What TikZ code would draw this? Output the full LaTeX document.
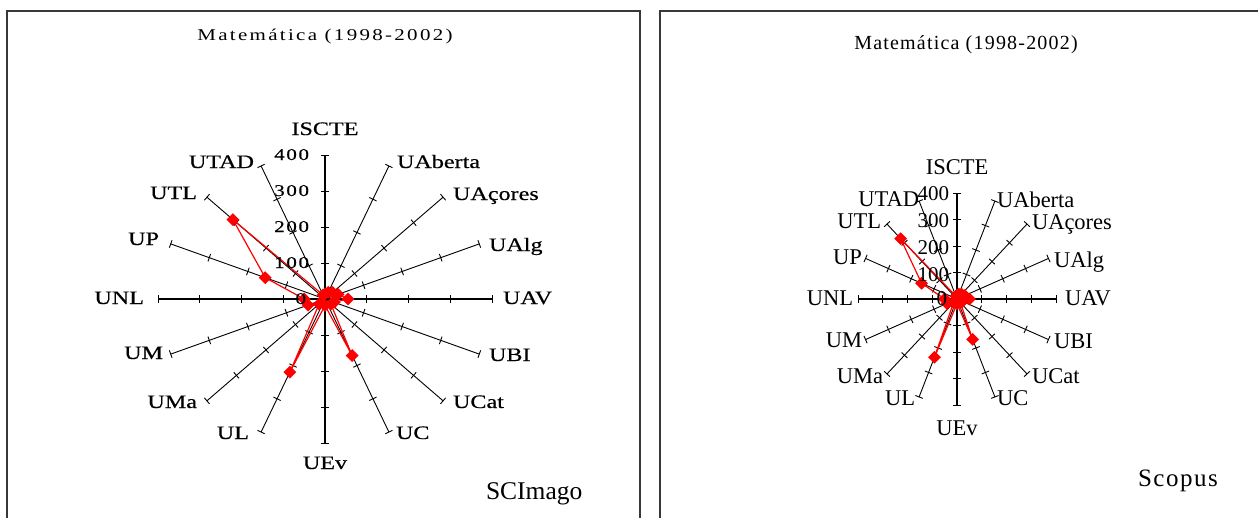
\documentclass[tikz,border=0pt]{standalone}
\usepackage{fontspec}
\setmainfont{Liberation Serif}
% wide serif faces for the chart panels
\newfontfamily\titleL[FakeStretch=1.27,LetterSpace=14]{Liberation Serif}
\newfontfamily\labL[FakeStretch=1.27,FakeBold=0.5]{Liberation Serif}
\newfontfamily\numL[FakeStretch=1.27,LetterSpace=10,FakeBold=0.5]{Liberation Serif}
\newfontfamily\titleR[LetterSpace=6]{Liberation Serif}
\newfontfamily\srcR[LetterSpace=6]{Liberation Serif}
\usetikzlibrary{calc,shapes.geometric}

\tikzset{
  panel/.style={draw=black!78, line width=2},
  spoke/.style={line width=0.9},
  mainaxis/.style={line width=1.6},
  tickmark/.style={line width=0.9},
  series/.style={draw=red, line width=1.2, line join=round},
  marker/.style={diamond, fill=red, draw=none, inner sep=0, minimum width=13, minimum height=13, aspect=1},
  txt/.style={inner sep=0, outer sep=0},
  ttlL/.style={txt, anchor=base, font=\titleL\fontsize{16.5}{18}\selectfont},
  ttlR/.style={txt, anchor=base, font=\titleR\fontsize{20}{22}\selectfont},
  axL/.style={txt, font=\labL\fontsize{19}{21}\selectfont},
  axR/.style={txt, font=\fontsize{22.5}{24}\selectfont},
  valL/.style={txt, anchor=base east, font=\numL\fontsize{16.5}{18}\selectfont},
  valR/.style={txt, anchor=base east, font=\fontsize{21}{23}\selectfont},
}

% #1 prefix, #2 cx, #3 cy, #4 rx, #5 ry (for 400), #6 the 16 values
\newcommand\radarchart[6]{%
  \coordinate (#1-c) at (#2,#3);
  \foreach \k in {0,...,15}{%
    \pgfmathsetmacro\ang{90-22.5*\k}
    \coordinate (#1-e\k) at ({#2+#4*cos(\ang)},{#3-#5*sin(\ang)});
  }
  % spokes with perpendicular ticks every 100
  \foreach \k in {0,...,15}{%
    \draw[spoke] (#1-c) -- (#1-e\k);
    \foreach \t in {0.25,0.5,0.75,1}{%
      \coordinate (#1-tp) at ($(#1-c)!\t!(#1-e\k)$);
      \draw[tickmark] ($(#1-tp)!4pt!90:(#1-c)$) -- ($(#1-tp)!4pt!-90:(#1-c)$);
    }
  }
  \draw[mainaxis] (#1-e0) -- (#1-e8);
  \draw[mainaxis] (#1-e4) -- (#1-e12);
  % data series
  \foreach \v [count=\k from 0] in {#6}{%
    \pgfmathsetmacro\ang{90-22.5*\k}
    \pgfmathsetmacro\frac{\v/400}
    \coordinate (#1-d\k) at ({#2+\frac*#4*cos(\ang)},{#3-\frac*#5*sin(\ang)});
  }
  \draw[series] (#1-d0) \foreach \k in {1,...,15}{ -- (#1-d\k)} -- cycle;
  \foreach \k in {0,...,15}{\node[marker] (#1-m\k) at (#1-d\k) {};}
}

\begin{document}
\begin{tikzpicture}[x=1pt,y=-1pt]
\useasboundingbox (0,0) rectangle (1258,517);
\fill[white] (0,0) rectangle (1258,517);

% panel frames
\draw[panel] (7,530) -- (7,11) -- (640,11) -- (640,530);
\draw[panel] (660,530) -- (660,11) -- (1275,11);

% ---------------- left panel ----------------
\node[ttlL] (tL) at (325,40) {Matemática (1998-2002)};
\radarchart{L}{325}{299}{167}{144}{14,20,26,34,55,24,20,170,18,220,20,44,50,155,312,12}
\node[valL] (L400) at (309,160) {400};
\node[valL] (L300) at (309,196) {300};
\node[valL] (L200) at (309,232) {200};
\node[valL] (L100) at (309,268) {100};
\node[valL] (L0)   at (306,304) {0};
\node[axL, anchor=base]      (Lisc) at (325,135) {ISCTE};
\node[axL, anchor=base west] (Lab)  at (397,168) {UAberta};
\node[axL, anchor=base west] (Lac)  at (453,200) {UAçores};
\node[axL, anchor=base west] (Lalg) at (489,251) {UAlg};
\node[axL, anchor=base west] (Lav)  at (503,304) {UAV};
\node[axL, anchor=base west] (Lbi)  at (489,361) {UBI};
\node[axL, anchor=base west] (Lcat) at (453,408) {UCat};
\node[axL, anchor=base west] (Luc)  at (396,439) {UC};
\node[axL, anchor=base]      (Lev)  at (325,469) {UEv};
\node[axL, anchor=base east] (Lul)  at (249,439) {UL};
\node[axL, anchor=base east] (Lma)  at (197,408) {UMa};
\node[axL, anchor=base east] (Lum)  at (163,359) {UM};
\node[axL, anchor=base east] (Lnl)  at (144,304) {UNL};
\node[axL, anchor=base east] (Lup)  at (159,245) {UP};
\node[axL, anchor=base east] (Ltl)  at (197,199) {UTL};
\node[axL, anchor=base east] (Ltad) at (254,168) {UTAD};
\node[txt, anchor=base west, font=\fontsize{25.5}{27}\selectfont] (src1) at (486,499) {SCImago};

% ---------------- right panel ----------------
\node[ttlR] (tR) at (966,49) {Matemática (1998-2002)};
\radarchart{R}{957}{299}{99}{106}{14,20,26,34,50,24,20,165,18,238,20,44,50,155,322,12}
\node[valR] (R400) at (949,200) {400};
\node[valR] (R300) at (949,227) {300};
\node[valR] (R200) at (949,254) {200};
\node[valR] (R100) at (949,281) {100};
\node[valR] (R0)   at (947,305) {0};
\node[axR, anchor=base]      (Risc) at (957,174) {ISCTE};
\node[axR, anchor=base west] (Rab)  at (997,207) {UAberta};
\node[axR, anchor=base west] (Rac)  at (1032,229) {UAçores};
\node[axR, anchor=base west] (Ralg) at (1054,267) {UAlg};
\node[axR, anchor=base west] (Rav)  at (1065,305) {UAV};
\node[axR, anchor=base west] (Rbi)  at (1054,348) {UBI};
\node[axR, anchor=base west] (Rcat) at (1032,383) {UCat};
\node[axR, anchor=base west] (Ruc)  at (997,405) {UC};
\node[axR, anchor=base]      (Rev)  at (957,435) {UEv};
\node[axR, anchor=base east] (Rul)  at (915,405) {UL};
\node[axR, anchor=base east] (Rma)  at (883,383) {UMa};
\node[axR, anchor=base east] (Rum)  at (862,347) {UM};
\node[axR, anchor=base east] (Rnl)  at (853,305) {UNL};
\node[axR, anchor=base east] (Rup)  at (862,264) {UP};
\node[axR, anchor=base east] (Rtl)  at (881,228) {UTL};
\node[axR, anchor=base east] (Rtad) at (919,206) {UTAD};
\node[txt, anchor=base west, font=\srcR\fontsize{25}{27}\selectfont] (src2) at (1138,486) {Scopus};
\end{tikzpicture}
\end{document}
